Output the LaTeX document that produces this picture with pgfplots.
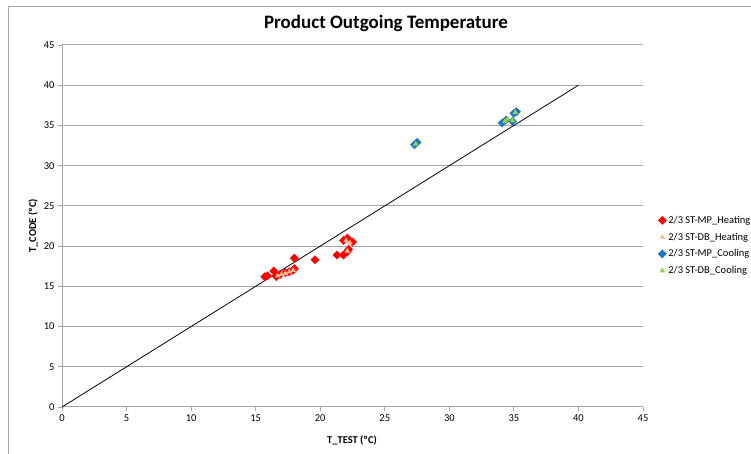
\documentclass[border=0pt]{standalone}
\usepackage{fontspec}
\setmainfont{Carlito}
\usepackage{pgfplots}
\pgfplotsset{compat=1.18}
\definecolor{gridgray}{RGB}{165,165,165}
\definecolor{mpheat}{RGB}{255,0,0}
\definecolor{dbheat}{RGB}{250,192,144}
\definecolor{mpcool}{RGB}{31,120,196}
\definecolor{dbcool}{RGB}{146,208,80}
\begin{document}
\begin{tikzpicture}[x=1pt,y=1pt]
\path[use as bounding box] (0,0) rectangle (751,454);
\draw[gridgray, line width=1pt] (8.5,-5) -- (8.5,447.5) -- (760,447.5);
\node[font=\bfseries\fontsize{19}{22}\selectfont] at (386,431) {Product Outgoing Temperature};
\node[font=\bfseries\fontsize{10.5}{12}\selectfont] at (352,14) {T\_TEST (ºC)};
\node[font=\bfseries\fontsize{10.5}{12}\selectfont, rotate=90] at (33,228) {T\_CODE (ºC)};
\begin{axis}[
  at={(62pt,47pt)}, anchor=south west,
  scale only axis, width=581pt, height=362pt,
  xmin=0, xmax=45, ymin=0, ymax=45,
  xtick={0,5,...,45}, ytick={0,5,...,45},
  axis x line=bottom, axis y line=left,
  axis line style={-, gridgray, line width=1pt},
  ymajorgrids, grid style={gridgray, line width=1pt},
  tick align=outside, major tick length=4pt,
  tick style={gridgray, line width=0.8pt},
  /pgf/number format/assume math mode=true,
  ticklabel style={font=\fontsize{10.5}{12}\selectfont},
  clip=false,
  legend style={at={(1,0.446)}, anchor=west, xshift=12pt, draw=none, fill=none,
    font=\fontsize{10.5}{12}\selectfont, row sep=4pt},
  legend cell align=left,
  legend image code/.code={\draw[#1] plot coordinates {(0pt,0pt)};},
]
\addplot[only marks, mark=square*, mark size=2.9pt, mark options={rotate=45, fill=mpheat, draw=mpheat}] coordinates {
(15.7,16.2)(15.9,16.3)(16.4,16.9)(16.6,16.2)(16.9,16.5)(17.3,16.7)(17.6,16.8)(17.9,17.0)(18.0,17.2)(18.0,18.5)(19.6,18.3)(21.3,18.9)(21.8,18.9)(22.1,19.3)(22.2,19.6)(21.8,20.7)(22.1,21.0)(22.5,20.5)
};
\addlegendentry{2/3 ST-MP\_Heating}
\addplot[only marks, mark=triangle*, mark size=2.8pt, mark options={fill=dbheat, draw=dbheat}] coordinates {
(16.7,16.3)(17.0,16.5)(17.3,16.6)(17.6,16.8)(17.9,17.0)(22.0,20.7)(22.3,20.4)(22.1,19.4)
};
\addlegendentry{2/3 ST-DB\_Heating}
\addplot[only marks, mark=square*, mark size=2.9pt, mark options={rotate=45, fill=mpcool, draw=mpcool}] coordinates {
(27.3,32.6)(27.5,32.9)(34.1,35.3)(34.4,35.7)(34.9,35.5)(35.0,36.5)(35.2,36.7)
};
\addlegendentry{2/3 ST-MP\_Cooling}
\addplot[only marks, mark=triangle*, mark size=2.8pt, mark options={fill=dbcool, draw=dbcool}] coordinates {
(27.4,32.7)(34.3,35.5)(34.9,35.6)(35.1,36.6)(34.5,35.8)
};
\addlegendentry{2/3 ST-DB\_Cooling}
\addplot[black, line width=0.8pt, no marks, forget plot] coordinates {(0,0)(40,40)};
\end{axis}
\end{tikzpicture}
\end{document}
